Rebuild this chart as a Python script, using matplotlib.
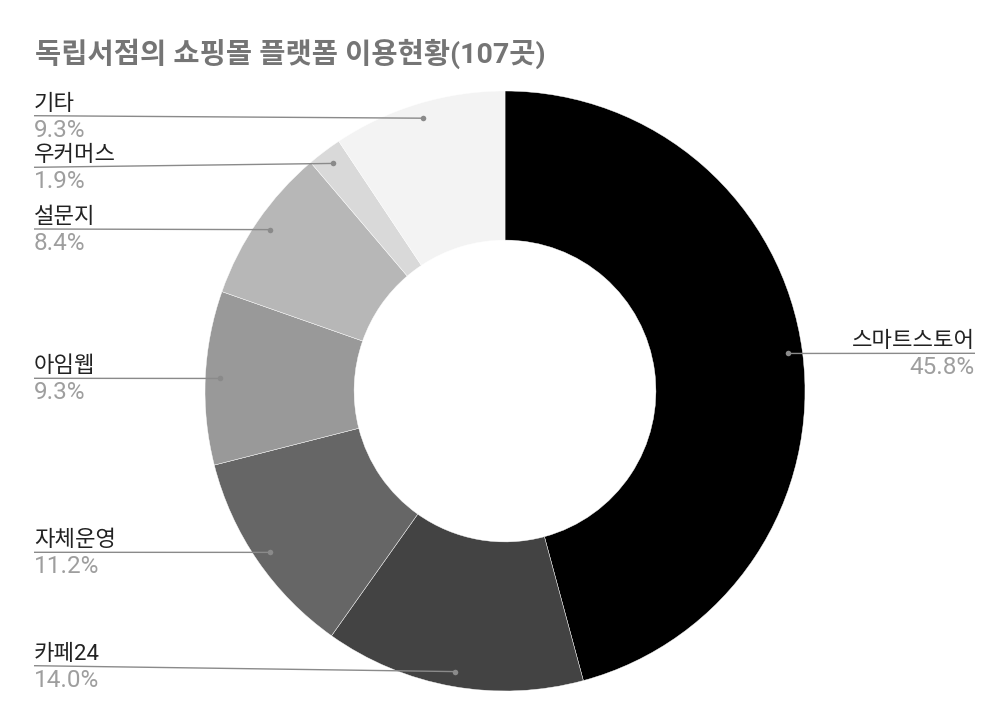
import matplotlib
matplotlib.use("Agg")
import matplotlib.pyplot as plt
import numpy as np

# ---- data ----
title = "독립서점의 쇼핑몰 플랫폼 이용현황(107곳)"
categories = ["스마트스토어", "카페24", "자체운영", "아임웹", "설문지", "우커머스", "기타"]
counts = [49, 15, 12, 10, 9, 2, 10]
colors = ["#000000", "#434343", "#666666", "#999999", "#b7b7b7", "#d9d9d9", "#f3f3f3"]

# ---- layout (pixel units, y measured from top) ----
W, H = 1008, 726
cx, cy, R = 505, 391, 300
label_line_y = {"스마트스토어": 353.3, "카페24": 665.7, "자체운영": 552.3, "아임웹": 378.3,
                "설문지": 229.0, "우커머스": 167.3, "기타": 115.7}
left_x, right_x = 34, 975

FAM = ['Roboto', 'Noto Sans CJK KR', 'DejaVu Sans']
plt.rcParams['font.family'] = FAM

fig = plt.figure(figsize=(W / 100, H / 100), dpi=100)
ax = fig.add_axes([0, 0, 1, 1])

def Y(y):
    return H - y

wedges, _ = ax.pie(counts, colors=colors, startangle=90, counterclock=False,
                   center=(cx, Y(cy)), radius=R, frame=True,
                   wedgeprops=dict(width=R * 0.497, edgecolor='white', linewidth=0.3))
ax.set_xlim(0, W)
ax.set_ylim(0, H)
ax.set_aspect('equal')
ax.axis('off')

total = sum(counts)
for w, name, c in zip(wedges, categories, counts):
    mid = np.deg2rad((w.theta1 + w.theta2) / 2)
    dx = cx + 0.95 * R * np.cos(mid)
    dy = Y(cy) + 0.95 * R * np.sin(mid)
    ly = Y(label_line_y[name])
    pct = f"{100 * c / total:.1f}%"
    if np.cos(mid) >= 0:
        x0, ha = right_x, 'right'
    else:
        x0, ha = left_x, 'left'
    ax.plot([x0, dx], [ly, dy], color='#8a8a8a', lw=1.0, solid_capstyle='butt', zorder=5)
    ax.plot([dx], [dy], 'o', color='#8a8a8a', ms=4, mec='none', zorder=6)
    ax.text(x0, ly + 6, name, ha=ha, va='baseline', fontsize=16, color='#222222', family=FAM)
    ax.text(x0, ly - 21, pct, ha=ha, va='baseline', fontsize=17.5, color='#9e9e9e', family=FAM)

ax.text(35, Y(63), title, ha='left', va='baseline', fontsize=20.5, fontweight='bold',
        color='#757575', family=FAM)

fig.savefig("out.png", dpi=100, facecolor='white')
